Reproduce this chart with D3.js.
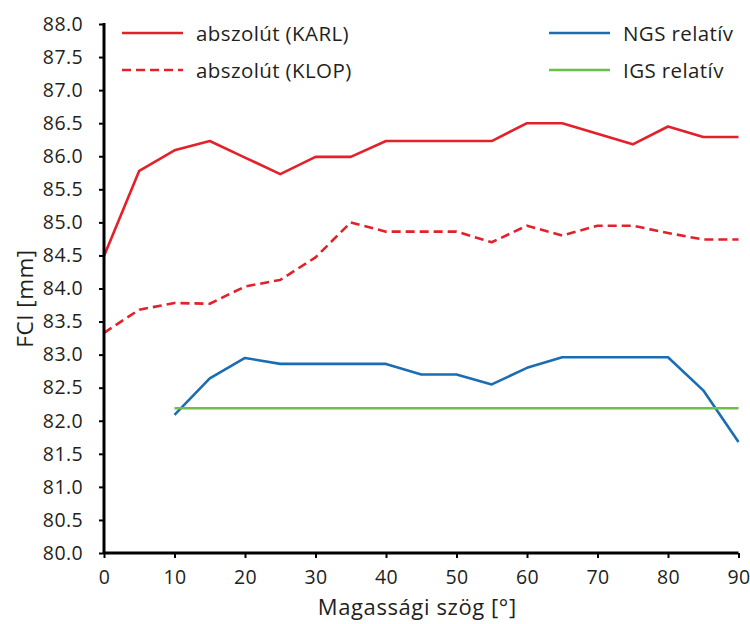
<!DOCTYPE html>
<html>
<head>
<meta charset="utf-8">
<script src="https://cdn.jsdelivr.net/npm/d3@7"></script>
<style>
  body { margin: 0; background: #fff; }
  svg text { font-family: "Open Sans", sans-serif; fill: #231f20; }
</style>
</head>
<body>
<div id="chart"></div>
<script>
// Magassági szög (deg)
const angles = [0, 5, 10, 15, 20, 25, 30, 35, 40, 45, 50, 55, 60, 65, 70, 75, 80, 85, 90];

const karl = [84.49, 85.78, 86.09, 86.23, 85.98, 85.73, 85.99, 85.99, 86.23, 86.23, 86.23, 86.23,
  86.5, 86.5, 86.34, 86.18, 86.45, 86.29, 86.29];
const klop = [83.33, 83.68, 83.78, 83.77, 84.03, 84.13, 84.47, 85.0, 84.86, 84.86, 84.86, 84.7,
  84.95, 84.8, 84.95, 84.95, 84.84, 84.74, 84.74];
// NGS starts at 10 deg
const ngs = [null, null, 82.09, 82.64, 82.95, 82.86, 82.86, 82.86, 82.86, 82.7, 82.7, 82.55,
  82.8, 82.96, 82.96, 82.96, 82.96, 82.46, 81.68];
const igs = [null, null, 82.19, 82.19, 82.19, 82.19, 82.19, 82.19, 82.19, 82.19, 82.19, 82.19,
  82.19, 82.19, 82.19, 82.19, 82.19, 82.19, 82.19];

const xTicks = [0, 10, 20, 30, 40, 50, 60, 70, 80, 90];
const yTicks = [80, 80.5, 81, 81.5, 82, 82.5, 83, 83.5, 84, 84.5, 85, 85.5, 86, 86.5, 87, 87.5, 88];

const RED = "#e3212b";
const BLUE = "#1b6db3";
const GREEN = "#6dbf4b";

const width = 750, height = 624;
const margin = { top: 24, right: 11.5, bottom: 71, left: 104 };

const svg = d3.select("#chart").append("svg")
  .attr("width", width)
  .attr("height", height);

const x = d3.scaleLinear().domain([0, 90]).range([margin.left, width - margin.right]);
const y = d3.scaleLinear().domain([80, 88]).range([height - margin.bottom, margin.top]);

// series
const series = [
  { values: karl, color: RED, dash: null },
  { values: klop, color: RED, dash: "9,5" },
  { values: ngs, color: BLUE, dash: null },
  { values: igs, color: GREEN, dash: null }
];

const line = d3.line()
  .defined(d => d[1] != null)
  .x(d => x(d[0]))
  .y(d => y(d[1]));

series.forEach(s => {
  svg.append("path")
    .datum(angles.map((a, i) => [a, s.values[i]]))
    .attr("fill", "none")
    .attr("stroke", s.color)
    .attr("stroke-width", 2.6)
    .attr("stroke-dasharray", s.dash)
    .attr("stroke-linejoin", "round")
    .attr("d", line);
});

// axes
const yAxis = svg.append("g")
  .attr("transform", `translate(${margin.left},0)`)
  .call(d3.axisLeft(y).tickValues(yTicks).tickFormat(d3.format(".1f")).tickSize(5).tickPadding(16));

const xAxis = svg.append("g")
  .attr("transform", `translate(0,${height - margin.bottom})`)
  .call(d3.axisBottom(x).tickValues(xTicks).tickFormat(d3.format("d")).tickSize(5).tickPadding(12));

[xAxis, yAxis].forEach(g => {
  g.select(".domain").attr("stroke", "#000").attr("stroke-width", 3);
  g.selectAll(".tick line").attr("stroke", "#000").attr("stroke-width", 2);
  g.selectAll(".tick text")
    .attr("fill", "#231f20")
    .style("font-family", "'Open Sans', sans-serif")
    .style("font-size", "19.5px")
    .style("letter-spacing", "0.4px");
});
yAxis.select(".domain").attr("d", `M0,${y(80)}V${y(88) - 1}`);
xAxis.select(".domain").attr("d", `M${x(0)},0H${x(90)}`);

// axis titles
svg.append("text")
  .attr("x", (x(0) + x(90)) / 2 - 4)
  .attr("y", 615)
  .attr("text-anchor", "middle")
  .style("font-size", "22px")
  .style("letter-spacing", "0.6px")
  .text("Magassági szög [°]");

svg.append("text")
  .attr("transform", `translate(33,${(y(80) + y(88)) / 2 + 10}) rotate(-90)`)
  .attr("text-anchor", "middle")
  .style("font-size", "22.5px")
  .style("letter-spacing", "0.5px")
  .text("FCI [mm]");

// legend
const legend = [
  { label: "abszolút (KARL)", color: RED, dash: null, lx: 122, ly: 33 },
  { label: "abszolút (KLOP)", color: RED, dash: "9,5", lx: 122, ly: 70 },
  { label: "NGS relatív", color: BLUE, dash: null, lx: 549, ly: 33 },
  { label: "IGS relatív", color: GREEN, dash: null, lx: 549, ly: 70 }
];

legend.forEach(l => {
  svg.append("line")
    .attr("x1", l.lx).attr("x2", l.lx + 61)
    .attr("y1", l.ly).attr("y2", l.ly)
    .attr("stroke", l.color)
    .attr("stroke-width", 2.6)
    .attr("stroke-dasharray", l.dash);
  svg.append("text")
    .attr("x", l.lx + 74)
    .attr("y", l.ly + 7.5)
    .style("font-size", "20.5px")
    .style("letter-spacing", "0.4px")
    .text(l.label);
});
</script>
</body>
</html>
